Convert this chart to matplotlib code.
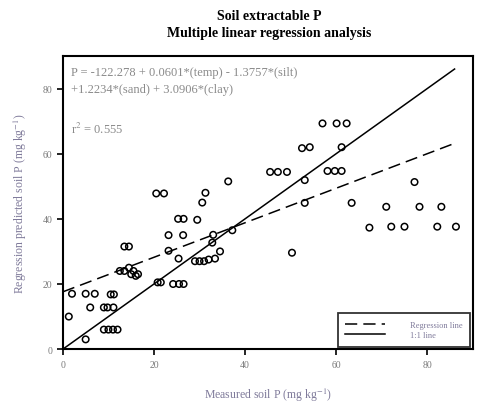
import numpy as np
import matplotlib
matplotlib.use('Agg')
import matplotlib.pyplot as plt

# measured vs regression-predicted soil P (mg/kg)
measured = [20.5, 22.2, 25.3, 26.5, 23.2, 26.4, 13.5, 14.5, 23.2, 25.4,
            12.5, 13.5, 14.5, 15.0, 15.5, 16.0, 16.5, 20.8, 21.5, 24.2,
            25.5, 26.5, 2.0, 5.0, 7.0, 10.5, 11.2, 6.0, 9.0, 9.8,
            11.1, 1.3, 9.0, 10.0, 11.0, 12.0, 5.0,
            45.5, 47.2, 49.2, 36.3, 31.3, 30.6, 29.5, 33.0, 32.8,
            34.5, 33.4, 29.0, 30.0, 31.0, 32.0, 50.3, 37.2,
            57.0, 60.1, 62.3, 52.5, 54.2, 61.2, 58.1, 59.7, 61.2,
            53.1, 53.1, 63.4, 71.0, 78.3, 83.1, 77.2,
            67.3, 72.1, 75.0, 82.2, 86.3]
predicted = [47.8, 47.8, 40.0, 40.0, 35.0, 35.0, 31.5, 31.5, 30.2, 27.8,
             24.0, 24.0, 25.0, 23.0, 24.0, 22.5, 23.0, 20.5, 20.5, 20.0,
             20.0, 20.0, 17.0, 17.0, 17.0, 16.8, 16.8, 12.8, 12.8, 12.8,
             12.8, 10.0, 6.0, 6.0, 6.0, 6.0, 3.0,
             54.4, 54.4, 54.4, 51.5, 48.0, 45.0, 39.7, 35.1, 32.7,
             30.0, 27.8, 27.0, 27.0, 27.0, 27.5, 29.6, 36.5,
             69.3, 69.3, 69.3, 61.7, 62.0, 62.0, 54.7, 54.7, 54.7,
             51.9, 44.9, 44.9, 43.7, 43.7, 43.7, 51.3,
             37.3, 37.6, 37.6, 37.6, 37.6]

reg_intercept = 17.6
reg_slope = 0.53
line_x = [0, 86]

eq_lines = ['P = -122.278 + 0.0601*(temp) - 1.3757*(silt)',
            '+1.2234*(sand) + 3.0906*(clay)']
r2_text = 'r$^2$ = 0.555'

plt.rcParams['font.family'] = ['Liberation Serif', 'DejaVu Serif']
plt.rcParams['mathtext.fontset'] = 'stix'

fig = plt.figure(figsize=(4.8, 4.1), dpi=100)
ax = fig.add_axes([0.131, 0.146, 0.854, 0.715])

ax.scatter(measured, predicted, s=22, facecolors='none', edgecolors='black',
           linewidths=1.1, zorder=3)

xs = np.array(line_x)
ax.plot(xs, reg_intercept + reg_slope * xs, color='black', lw=1.1,
        dashes=(8, 4), label='Regression line')
ax.plot(xs, xs, color='black', lw=1.1, label='1:1 line')

ax.set_xlim(0, 90)
ax.set_ylim(0, 90)
ax.set_xticks([0, 20, 40, 60, 80])
ax.set_yticks([0, 20, 40, 60, 80])
ax.tick_params(direction='out', length=4, width=1.2, labelsize=7,
               labelcolor='#7a7a7a')
for sp in ax.spines.values():
    sp.set_linewidth(1.5)

label_color = '#7f7a9a'
ax.set_xlabel('Measured soil P (mg kg$^{-1}$)', fontsize=8.5,
              color=label_color, labelpad=12)
ax.set_ylabel('Regression predicted soil P (mg kg$^{-1}$)', fontsize=8.5,
              color=label_color, labelpad=10)

fig.text(0.56, 0.975, 'Soil extractable P', ha='center', va='top',
         fontsize=10, fontweight='bold')
fig.text(0.56, 0.935, 'Multiple linear regression analysis', ha='center',
         va='top', fontsize=10, fontweight='bold')

ax.text(0.02, 0.965, eq_lines[0] + '\n' + eq_lines[1], transform=ax.transAxes,
        ha='left', va='top', fontsize=9, color='#8a8a8a', linespacing=1.55)
ax.text(0.02, 0.78, r2_text, transform=ax.transAxes, ha='left', va='top',
        fontsize=9, color='#8a8a8a')

leg = ax.legend(loc='lower right', fontsize=6, frameon=True, fancybox=False,
                edgecolor='black', handlelength=4.8, handletextpad=3.0,
                borderpad=0.9, labelspacing=0.3,
                labelcolor='#7f7a9a', borderaxespad=0.3)
leg.get_frame().set_linewidth(1.3)

fig.savefig('out.png', dpi=100)
